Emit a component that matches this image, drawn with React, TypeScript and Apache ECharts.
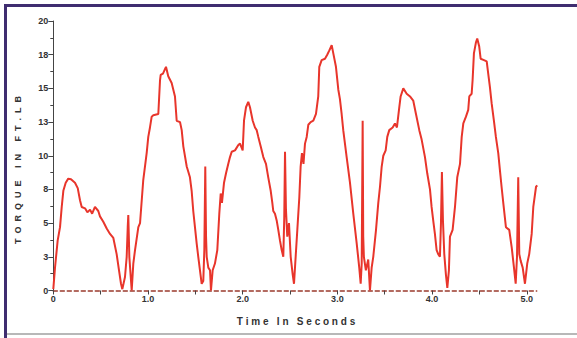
import React, { useEffect, useRef } from "react";
import * as echarts from "echarts";

const timeSec = [
  0.0, 0.018, 0.046, 0.071, 0.089, 0.106, 0.131, 0.158, 0.187, 0.229, 0.258, 0.282, 0.3, 0.335, 0.36, 0.388, 0.41, 0.44, 0.475,
  0.493, 0.528, 0.564, 0.599, 0.634, 0.669, 0.694, 0.715, 0.729, 0.757, 0.775, 0.786, 0.792, 0.803, 0.828, 0.845,
  0.863, 0.898, 0.916, 0.934, 0.95, 0.968, 0.986, 1.003, 1.021, 1.039, 1.056, 1.109, 1.127, 1.134, 1.158, 1.19,
  1.214, 1.25, 1.285, 1.303, 1.338, 1.356, 1.373, 1.409, 1.443, 1.461, 1.478, 1.496, 1.514, 1.531, 1.549, 1.567,
  1.584, 1.595, 1.605, 1.613, 1.62, 1.637, 1.655, 1.665, 1.683, 1.707, 1.732, 1.753, 1.768, 1.781, 1.803, 1.824,
  1.848, 1.866, 1.884, 1.919, 1.954, 1.972, 2.0, 2.014, 2.035, 2.059, 2.077, 2.106, 2.13, 2.148, 2.165, 2.19,
  2.218, 2.246, 2.27, 2.296, 2.313, 2.323, 2.341, 2.359, 2.376, 2.394, 2.412, 2.429, 2.439, 2.447, 2.457, 2.471,
  2.489, 2.507, 2.528, 2.542, 2.555, 2.577, 2.598, 2.612, 2.626, 2.642, 2.658, 2.676, 2.693, 2.718, 2.746, 2.774,
  2.798, 2.809, 2.834, 2.869, 2.893, 2.914, 2.94, 2.957, 2.985, 3.01, 3.027, 3.045, 3.062, 3.098, 3.133, 3.168,
  3.204, 3.231, 3.246, 3.257, 3.267, 3.273, 3.28, 3.301, 3.326, 3.344, 3.362, 3.379, 3.408, 3.432, 3.45, 3.468,
  3.485, 3.51, 3.527, 3.548, 3.584, 3.608, 3.629, 3.654, 3.668, 3.696, 3.732, 3.767, 3.801, 3.83, 3.865, 3.89,
  3.925, 3.949, 3.978, 3.995, 4.012, 4.03, 4.048, 4.065, 4.083, 4.094, 4.104, 4.115, 4.129, 4.146, 4.161, 4.178,
  4.189, 4.217, 4.242, 4.266, 4.295, 4.313, 4.33, 4.358, 4.382, 4.393, 4.418, 4.428, 4.442, 4.463, 4.477, 4.498,
  4.513, 4.548, 4.577, 4.593, 4.611, 4.629, 4.653, 4.674, 4.699, 4.717, 4.734, 4.752, 4.78, 4.815, 4.841, 4.865,
  4.883, 4.897, 4.91, 4.921, 4.936, 4.957, 4.981, 5.005, 5.026, 5.052, 5.069, 5.098, 5.111,
];

const torqueFtLb = [
  0.1, 1.7, 3.7, 4.7, 6.2, 7.4, 8.0, 8.3, 8.25, 8.0, 7.6, 6.7, 6.2, 6.1, 5.8, 6.0, 5.7, 6.2, 5.9,
  5.5, 5.1, 4.6, 4.2, 3.9, 2.7, 1.5, 0.5, 0.1, 1.0, 2.5, 4.7, 5.6, 2.5, 0.0, 2.0,
  3.0, 4.7, 5.0, 6.7, 8.2, 9.2, 10.2, 11.4, 12.1, 12.9, 13.0, 13.1, 15.6, 16.0, 16.1, 16.6,
  15.9, 15.4, 14.4, 12.6, 12.5, 11.9, 10.7, 9.2, 8.4, 7.4, 5.9, 4.7, 3.5, 2.5, 1.5, 0.5,
  0.7, 3.0, 9.2, 4.0, 2.5, 1.7, 1.5, 0.0, 1.5, 2.0, 3.0, 5.7, 7.2, 6.5, 8.0, 8.7,
  9.4, 9.9, 10.3, 10.4, 10.8, 10.9, 10.4, 12.6, 13.6, 14.0, 13.6, 12.6, 12.1, 11.9, 11.4, 10.7,
  9.9, 9.4, 8.4, 7.4, 6.5, 5.9, 5.7, 5.2, 4.5, 3.7, 3.0, 2.5, 5.4, 10.3, 6.0, 4.0,
  5.0, 2.5, 1.2, 0.5, 2.0, 4.5, 6.9, 9.2, 10.2, 9.4, 10.9, 11.4, 12.3, 12.5, 12.6, 13.1,
  14.4, 16.6, 17.1, 17.2, 17.5, 17.8, 18.2, 17.6, 16.6, 14.9, 14.2, 13.1, 11.9, 9.9, 8.0, 5.7,
  3.5, 1.7, 0.5, 2.0, 12.6, 4.0, 2.5, 1.5, 2.3, 0.0, 1.7, 2.5, 4.5, 6.5, 7.7, 9.2,
  10.0, 10.4, 11.4, 11.9, 12.1, 12.4, 12.1, 13.6, 14.4, 15.0, 14.6, 14.4, 14.1, 13.1, 11.9, 11.2,
  9.9, 8.7, 7.5, 6.2, 5.2, 4.2, 3.0, 2.7, 2.5, 5.0, 8.8, 5.2, 2.7, 1.2, 0.2, 1.5,
  4.0, 4.5, 6.2, 8.4, 9.4, 11.4, 12.4, 12.9, 13.4, 14.4, 14.6, 15.6, 17.6, 18.4, 18.7, 18.1,
  17.2, 17.1, 17.0, 16.1, 15.1, 13.9, 12.6, 11.4, 10.2, 8.9, 7.7, 6.5, 4.7, 4.5, 3.2, 1.7,
  0.5, 2.5, 8.4, 2.7, 2.2, 1.7, 0.5, 2.0, 2.7, 4.2, 6.2, 7.7, 7.8,
];

const yAxisTitle = "T  O  R  Q  U  E     I  N     F  T  .  L  B";
const xAxisTitle = "T i m e   I n   S e c o n d s";

export default function App() {
  const ref = useRef<HTMLDivElement>(null);
  useEffect(() => {
    if (!ref.current) return;
    const chart = echarts.init(ref.current, null, { renderer: "svg" });
    const data = timeSec.map((t, i) => [t, torqueFtLb[i]]);
    chart.setOption({
      animation: false,
      backgroundColor: "#ffffff",
      grid: { left: 53.3, right: 40.3, top: 21, bottom: 47.5, containLabel: false },
      xAxis: {
        type: "value",
        min: 0,
        max: 5.105,
        interval: 0.5,
        splitLine: { show: false },
        axisLine: { show: true, lineStyle: { color: "#9a3a2c", width: 1.5, type: [4, 3] } },
        axisTick: { show: true, length: 4, lineStyle: { color: "#444", width: 1 } },
        axisLabel: {
          color: "#333",
          fontFamily: "Liberation Sans, Arial, sans-serif",
          fontSize: 9,
          fontWeight: "bold",
          margin: 4,
          showMaxLabel: false,
          formatter: (v: number) => {
            if (Math.abs(v - Math.round(v)) > 1e-6) return "";
            return v === 0 ? "0" : v.toFixed(1);
          },
        },
      },
      yAxis: {
        type: "value",
        min: 0,
        max: 20,
        interval: 2.5,
        splitLine: { show: false },
        axisLine: { show: true, lineStyle: { color: "#444", width: 1 } },
        axisTick: { show: true, length: 5, lineStyle: { color: "#444" } },
        minorTick: { show: true, splitNumber: 2, length: 3, lineStyle: { color: "#444" } },
        axisLabel: {
          color: "#333",
          fontFamily: "Liberation Sans, Arial, sans-serif",
          fontSize: 9,
          fontWeight: "bold",
          margin: 5,
          formatter: (v: number) => String(Math.round(v)),
        },
      },
      series: [
        {
          type: "line",
          data,
          symbol: "none",
          lineStyle: { color: "#e8352b", width: 2 },
          z: 3,
        },
      ],
      graphic: [
        { type: "rect", shape: { x: 4, y: 4, width: 573, height: 3 }, style: { fill: "#3f2d70" }, z: 10 },
        { type: "rect", shape: { x: 4, y: 4, width: 3, height: 334 }, style: { fill: "#3f2d70" }, z: 10 },
        { type: "rect", shape: { x: 7, y: 333, width: 570, height: 2 }, style: { fill: "#b8b8b8" }, z: 10 },
        {
          type: "text",
          x: 18,
          y: 170,
          rotation: Math.PI / 2,
          style: {
            text: yAxisTitle,
            fill: "#333",
            font: "bold 9px 'Liberation Sans', Arial, sans-serif",
            textAlign: "center",
            textVerticalAlign: "middle",
          },
        },
        {
          type: "text",
          x: 296,
          y: 321,
          style: {
            text: xAxisTitle,
            fill: "#333",
            font: "bold 10px 'Liberation Sans', Arial, sans-serif",
            textAlign: "center",
            textVerticalAlign: "middle",
          },
        },
      ],
    });
    return () => chart.dispose();
  }, []);
  return (
    <div
      ref={ref}
      style={{ position: "fixed", left: 0, top: 0, width: 577, height: 338 }}
    />
  );
}
